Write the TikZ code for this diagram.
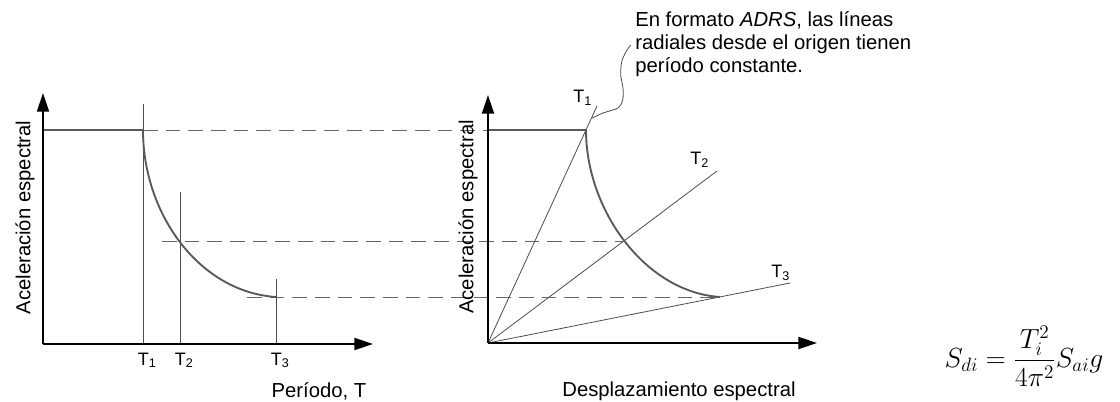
\documentclass[tikz,border=0pt]{standalone}
\usepackage{fontspec}
\setmainfont{Liberation Sans}
\usetikzlibrary{arrows.meta}
\begin{document}
\begin{tikzpicture}[x=0.75pt,y=-0.75pt,
    axis/.style={line width=1.5pt,-{Triangle[length=14pt,width=9pt]}},
    curve/.style={line width=1.4pt,draw=black!65},
    thin/.style={line width=0.6pt,draw=black!70},
    guide/.style={line width=0.6pt,draw=black!60,dash pattern=on 11pt off 6pt},
    lbl/.style={font=\fontsize{15.2}{17.2}\selectfont,inner sep=0pt},
    tlbl/.style={font=\fontsize{13.5}{15}\selectfont,inner sep=0pt,anchor=base west}]
\useasboundingbox (0,0) rectangle (1120,402);

% left: acceleration against period
\coordinate (O1) at (43,344);
\coordinate (A1) at (143,130);
\coordinate (A3) at (276,297);
% right: ADRS format
\coordinate (O2) at (488,343);
\coordinate (B1) at (586,130);
\coordinate (B2) at (623,241);
\coordinate (B3) at (720,297);

\draw [guide] (A1) -- (488,130);
\draw [guide] (162,241) -- (B2);
\draw [guide] (247,297) -- (B3);

\draw [thin] (143,104) -- (143,344);
\draw [thin] (180,192) -- (180,344);
\draw [thin] (276,279) -- (276,344);
\draw [curve] (43,130) -- (A1) .. controls (143,215) and (200,292) .. (A3);
\draw [axis] (O1) -- (43,93);
\draw [axis] (O1) -- (373,344);

\node [tlbl] (t1) at (137.5,365) {T\textsubscript{1}};
\node [tlbl] (t2) at (174.5,365) {T\textsubscript{2}};
\node [tlbl] (t3) at (270.5,365) {T\textsubscript{3}};
\node [lbl,rotate=90] (ya) at (25,217.5) {Aceleración espectral};
\node [lbl] (xa) at (319,391) {Período, T};

\draw [thin] (O2) -- (597,106);
\draw [thin] (O2) -- (717,171);
\draw [thin] (O2) -- (790,283);
\draw [curve] (488,130) -- (B1) .. controls (586,210) and (645,292) .. (B3);
\draw [axis] (O2) -- (488,95);
\draw [axis] (O2) -- (817,343);

\node [tlbl] (r1) at (573,103) {T\textsubscript{1}};
\node [tlbl] (r2) at (690,165) {T\textsubscript{2}};
\node [tlbl] (r3) at (771,278) {T\textsubscript{3}};
\node [lbl,rotate=90] (yb) at (468,217) {Aceleración espectral};
\node [lbl] (xb) at (679,391) {Desplazamiento espectral};

% callout
\node [lbl,anchor=north west,align=left] (note) at (635,11)
    {En formato \textit{ADRS}, las líneas\\radiales desde el origen tienen\\período constante.};
\draw [thin] plot [smooth] coordinates {(591.7,118.3) (603,113) (618,108) (622.7,100) (623,88) (620.7,75) (621.7,61.7) (626,51.7) (630.7,45)};

\node [font=\fontsize{22}{26}\selectfont,inner sep=0pt] (eq) at (1024,356)
    {$\displaystyle S_{di}=\frac{T_i^2}{4\pi^2}S_{ai}g$};
\end{tikzpicture}
\end{document}
